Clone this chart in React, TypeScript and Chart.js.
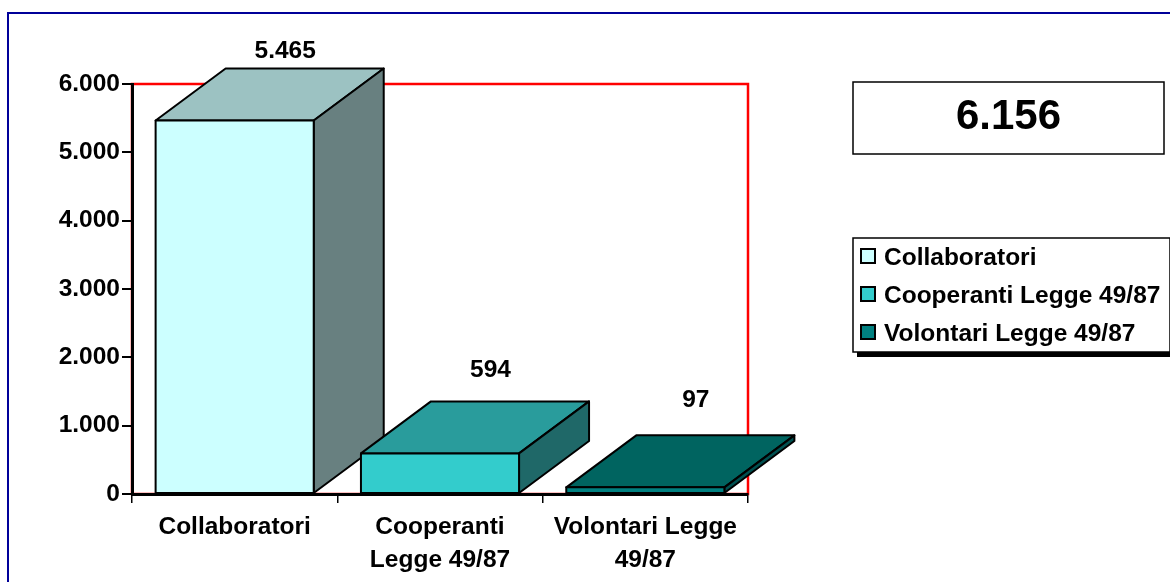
import React, { useEffect, useRef } from "react";
import { Chart, registerables } from "chart.js";

Chart.register(...registerables);

const categories = [["Collaboratori"], ["Cooperanti", "Legge 49/87"], ["Volontari Legge", "49/87"]];
const values = [5465, 594, 97];
const valueLabels = ["5.465", "594", "97"];
const frontColors = ["#CCFFFF", "#33CCCC", "#008080"];
const topColors = ["#9CC2C2", "#299C9C", "#006460"];
const sideColors = ["#688080", "#1F6868", "#005050"];
const legendNames = ["Collaboratori", "Cooperanti Legge 49/87", "Volontari Legge 49/87"];
const totalLabel = "6.156";
const yTicks = { min: 0, max: 6000, step: 1000 };

const FONT = '"Liberation Sans", Arial, sans-serif';
const DX = 70;
const DY = 52;
const LABEL_RISE = [11, 24, 28];

const poly = (ctx: CanvasRenderingContext2D, pts: number[][], fill: string) => {
  ctx.beginPath();
  pts.forEach(([x, y], i) => (i ? ctx.lineTo(x, y) : ctx.moveTo(x, y)));
  ctx.closePath();
  ctx.fillStyle = fill;
  ctx.fill();
  ctx.lineWidth = 2;
  ctx.strokeStyle = "#000";
  ctx.lineJoin = "round";
  ctx.stroke();
};

const decorPlugin = {
  id: "decor",
  beforeDraw(chart: any) {
    const { ctx, chartArea: a } = chart;
    ctx.save();
    ctx.fillStyle = "#fff";
    ctx.fillRect(0, 0, chart.width, chart.height);
    ctx.strokeStyle = "#000099";
    ctx.lineWidth = 2;
    ctx.strokeRect(8, 13, 1170, 580);
    ctx.strokeStyle = "#FF0000";
    ctx.lineWidth = 2.5;
    ctx.strokeRect(a.left, a.top, a.right - a.left, a.bottom - a.top);
    ctx.restore();
  },
  afterDatasetsDraw(chart: any) {
    const { ctx } = chart;
    const els = chart.getDatasetMeta(0).data;
    ctx.save();
    els.forEach((el: any, i: number) => {
      const l = el.x - el.width / 2;
      const r = el.x + el.width / 2;
      const t = el.y;
      const b = el.base;
      poly(ctx, [[l, t], [l + DX, t - DY], [r + DX, t - DY], [r, t]], topColors[i]);
      poly(ctx, [[r, t], [r + DX, t - DY], [r + DX, b - DY], [r, b]], sideColors[i]);
      poly(ctx, [[l, t], [r, t], [r, b], [l, b]], frontColors[i]);
      ctx.fillStyle = "#000";
      ctx.font = `bold 24.5px ${FONT}`;
      ctx.textAlign = "center";
      ctx.textBaseline = "alphabetic";
      ctx.fillText(valueLabels[i], el.x + 50.5, t - DY - LABEL_RISE[i]);
    });
    ctx.fillStyle = "#fff";
    ctx.strokeStyle = "#000";
    ctx.lineWidth = 1.5;
    ctx.lineJoin = "miter";
    ctx.fillRect(853, 82, 311, 72);
    ctx.strokeRect(853, 82, 311, 72);
    ctx.fillStyle = "#000";
    ctx.font = `bold 42px ${FONT}`;
    ctx.textAlign = "center";
    ctx.fillText(totalLabel, 1008.5, 129);
    ctx.fillStyle = "#000";
    ctx.fillRect(857, 352, 313, 5);
    ctx.fillStyle = "#fff";
    ctx.fillRect(853, 238, 317, 114);
    ctx.strokeRect(853, 238, 317, 114);
    ctx.font = `bold 24.5px ${FONT}`;
    ctx.textAlign = "left";
    legendNames.forEach((name, i) => {
      const y = 257 + i * 38;
      ctx.fillStyle = frontColors[i];
      ctx.lineWidth = 2;
      ctx.fillRect(861, y - 8, 14, 14);
      ctx.strokeRect(861, y - 8, 14, 14);
      ctx.fillStyle = "#000";
      ctx.fillText(name, 884, y + 8);
    });
    ctx.restore();
  },
};

export default function App() {
  const ref = useRef<HTMLCanvasElement | null>(null);
  useEffect(() => {
    document.body.style.margin = "0";
    const chart = new Chart(ref.current!, {
      type: "bar",
      data: {
        labels: categories as any,
        datasets: [
          {
            data: values,
            backgroundColor: frontColors,
            borderWidth: 0,
            barPercentage: 0.77,
            categoryPercentage: 1,
          },
        ],
      },
      options: {
        responsive: false,
        animation: false,
        layout: { padding: { top: 84, right: 422, left: 0, bottom: 0 } },
        plugins: { legend: { display: false }, tooltip: { enabled: false }, title: { display: false } },
        scales: {
          x: {
            afterFit: (s: any) => { s.height = 88; },
            grid: { drawOnChartArea: false, color: "#000", tickLength: 9, lineWidth: 1.5 },
            border: { color: "#000", width: 3 },
            ticks: { color: "#000", font: { family: FONT, weight: "bold", size: 24.5, lineHeight: 1.35 }, padding: 8, maxRotation: 0 },
          },
          y: {
            min: yTicks.min,
            max: yTicks.max,
            afterFit: (s: any) => { s.width = 132; },
            grid: { drawOnChartArea: false, color: "#000", tickLength: 10, lineWidth: 2 },
            border: { color: "#000", width: 3 },
            ticks: {
              stepSize: yTicks.step,
              color: "#000",
              padding: 2,
              font: { family: FONT, weight: "bold", size: 24.5 },
              callback: (v: any) => Number(v).toLocaleString("de-DE"),
            },
          },
        },
      } as any,
      plugins: [decorPlugin],
    });
    return () => chart.destroy();
  }, []);
  return <canvas ref={ref} width={1170} height={582} style={{ display: "block" }} />;
}
